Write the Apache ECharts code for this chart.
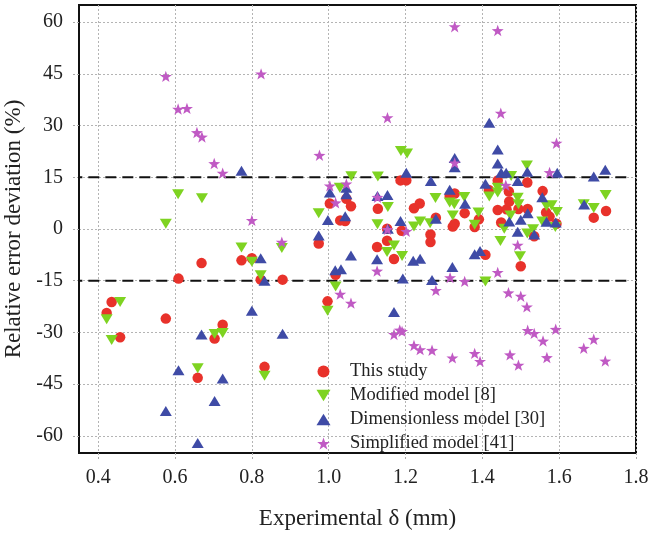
<!DOCTYPE html>
<html>
<head>
<meta charset="utf-8">
<script src="https://cdn.jsdelivr.net/npm/echarts@6/dist/echarts.min.js"></script>
<style>
  html, body { margin: 0; padding: 0; background: #fff; }
  #chart { width: 651px; height: 534px; }
</style>
</head>
<body>
<div id="chart"></div>
<script>
// Experimental δ (mm) vs relative error deviation (%)
const thisStudy = [
  [0.422,-24.4],[0.435,-21.2],[0.457,-31.4],[0.576,-26],[0.609,-14.4],[0.659,-43.2],[0.669,-9.9],
  [0.703,-31.8],[0.724,-27.8],[0.773,-9.1],[0.8,-8.5],[0.823,-14.7],[0.833,-40],[0.88,-14.7],
  [0.974,-4.2],[0.997,-21],[1.003,7.4],[1.018,-13.3],[1.03,2.5],[1.043,2.3],[1.046,8.8],[1.058,6.6],
  [1.126,-5.2],[1.128,5.9],[1.152,0.1],[1.152,-3.4],[1.17,-8.7],[1.187,14.1],[1.202,14.1],[1.19,-0.5],
  [1.222,6],[1.237,7.4],[1.265,-1.6],[1.265,-3.8],[1.279,3.3],[1.315,9.6],[1.328,10.3],[1.323,0.7],
  [1.328,1.5],[1.354,4.6],[1.38,0.6],[1.391,2.8],[1.408,-7.5],[1.417,11.3],[1.44,14.1],[1.44,5.5],
  [1.449,1.9],[1.463,5.7],[1.469,10.9],[1.47,8.0],[1.494,5.8],[1.5,-10.8],[1.517,13.5],[1.518,5.8],
  [1.535,-2.1],[1.557,11],[1.566,4.8],[1.575,3.6],[1.593,1.5],[1.69,3.3],[1.722,5.2]
];
const modifiedModel = [
  [0.422,-26.2],[0.435,-32.2],[0.457,-21.2],[0.576,1.5],[0.608,10.1],[0.659,-40.4],[0.67,8.9],
  [0.703,-30.5],[0.724,-30.2],[0.773,-5.4],[0.8,-9.5],[0.823,-13.4],[0.833,-42.6],[0.878,-5.5],
  [0.974,4.6],[0.997,-23.7],[1.018,-16.7],[1.029,12],[1.059,15.3],[1.128,15.2],[1.127,1.4],
  [1.154,6.4],[1.152,-6.7],[1.17,-4.8],[1.191,-7.8],[1.188,22.6],[1.204,21.9],[1.222,0.7],
  [1.238,2.2],[1.264,1.7],[1.278,9],[1.315,7.7],[1.327,7.2],[1.323,3.9],[1.353,9.3],[1.38,1.2],
  [1.39,4.8],[1.408,-15.2],[1.418,9.4],[1.44,12],[1.44,10.6],[1.447,-3.5],[1.457,0.1],[1.473,3.9],
  [1.475,15.4],[1.492,9.1],[1.494,7.2],[1.498,-7.9],[1.516,18.4],[1.517,-1.3],[1.532,-0.1],
  [1.556,2.2],[1.567,6.7],[1.58,6.9],[1.594,4.9],[1.59,0.6],[1.664,7.2],[1.69,6.1],[1.721,9.9]
];
const dimensionlessModel = [
  [0.576,-52.8],[0.609,-41],[0.659,-62.1],[0.669,-30.6],[0.703,-49.9],[0.724,-43.4],[0.773,16.9],
  [0.8,-23.7],[0.823,-8.5],[0.833,-15],[0.88,-30.4],[0.974,-1.9],[0.998,2.6],[1.003,10.6],
  [1.017,-12],[1.032,-11.7],[1.043,3.7],[1.046,12],[1.046,10.1],[1.058,-7.7],[1.126,-8.8],
  [1.127,9.6],[1.153,9.9],[1.154,0.1],[1.17,-24.1],[1.187,2.3],[1.193,-14.4],[1.202,16.3],
  [1.22,-9.2],[1.238,-8.6],[1.266,13.9],[1.269,-14.8],[1.279,3],[1.315,11.4],[1.322,-11],
  [1.328,20.6],[1.328,17.9],[1.355,7.3],[1.38,-7.3],[1.394,-6.4],[1.408,13.1],[1.418,30.8],
  [1.44,23.1],[1.44,19],[1.449,16.3],[1.462,16.3],[1.47,2.2],[1.492,13.9],[1.492,-0.8],[1.5,2.7],
  [1.517,16.6],[1.518,4.6],[1.535,-1.6],[1.556,9.2],[1.567,2.1],[1.591,1.9],[1.595,16.3],
  [1.665,7.1],[1.69,15.2],[1.72,17.2]
];
const simplifiedModel = [
  [0.576,44.3],[0.608,34.8],[0.631,35],[0.657,28],[0.67,26.7],[0.702,19],[0.724,16.2],[0.8,2.5],
  [0.824,45],[0.878,-3.8],[0.976,21.4],[1.003,12.5],[1.018,7.6],[1.03,-18.9],[1.046,13.1],
  [1.058,-21.5],[1.126,-12.2],[1.127,9.2],[1.153,32.3],[1.153,-0.1],[1.17,-30.6],[1.185,-29.3],
  [1.191,-29.7],[1.202,-0.7],[1.222,-33.8],[1.238,-35],[1.269,-35.2],[1.279,-17.8],[1.316,-14.1],
  [1.322,-37.4],[1.328,58.7],[1.328,19.2],[1.354,-15.2],[1.38,-36.1],[1.394,-38.4],[1.44,57.6],
  [1.448,33.6],[1.44,-12.6],[1.461,12.7],[1.468,-18.5],[1.472,-36.5],[1.492,-4.7],[1.494,-39.5],
  [1.5,-19.5],[1.516,-22.6],[1.518,-29.4],[1.535,-30.3],[1.558,-32.5],[1.568,-37.3],[1.575,16.4],
  [1.591,-29.1],[1.593,24.9],[1.664,-34.6],[1.69,-32],[1.72,-38.3]
];

const xTicks = [0.4, 0.6, 0.8, 1.0, 1.2, 1.4, 1.6, 1.8];
const yTicks = [-60, -45, -30, -15, 0, 15, 30, 45, 60];
const limitValues = [15, -15];
const limitSpan = [0.33, 1.78];

const seriesNames = ['This study', 'Modified model [8]', 'Dimensionless model [30]', 'Simplified model [41]'];

const serif = 'Liberation Serif, Times New Roman, serif';
const starPath = 'path://M50 0 L61.76 33.82 L97.55 34.55 L69.02 56.18 L79.39 90.45 L50 70 L20.61 90.45 L30.98 56.18 L2.45 34.55 L38.24 33.82 Z';
const downTriangle = 'path://M0 0 L120 0 L60 100 Z';
const upTriangle = 'path://M60 0 L120 100 L0 100 Z';

const gridLine = { show: true, lineStyle: { color: '#b4b4b4', width: 1, type: [2, 2] } };
const tickStyle = { show: true, inside: false, length: 8, lineStyle: { color: '#aaaaaa', width: 1, type: [2, 2] } };

const limitSeries = limitValues.map(v => ({
  type: 'line',
  data: limitSpan.map(x => [x, v]),
  symbol: 'none',
  clip: false,
  silent: true,
  z: 3,
  lineStyle: { color: '#111', width: 2, type: [11, 6] }
}));

const chart = echarts.init(document.getElementById('chart'), null, { renderer: 'canvas' });
chart.setOption({
  animation: false,
  backgroundColor: '#fff',
  grid: {
    left: 79, right: 15, top: 5, bottom: 81,
    containLabel: false, outerBoundsMode: 'none',
    show: true, borderColor: '#111', borderWidth: 2, backgroundColor: 'transparent'
  },
  legend: {
    orient: 'vertical',
    left: 311.5, top: 357,
    itemWidth: 14, itemHeight: 12, itemGap: 5,
    data: seriesNames,
    textStyle: { fontFamily: serif, fontSize: 18.5, color: '#222', padding: [0, 0, 0, 14.5] }
  },
  xAxis: {
    type: 'value', min: 0.35, max: 1.8,
    name: 'Experimental δ (mm)', nameLocation: 'middle', nameGap: 54,
    nameTextStyle: { fontFamily: serif, fontSize: 23, color: '#222' },
    axisLine: { show: true, onZero: false, lineStyle: { color: '#111', width: 2 } },
    axisTick: Object.assign({ customValues: xTicks }, tickStyle),
    axisLabel: { customValues: xTicks, margin: 15, fontFamily: serif, fontSize: 20, color: '#222',
                 formatter: v => v.toFixed(1) },
    splitLine: gridLine
  },
  yAxis: {
    type: 'value', min: -65, max: 65,
    name: 'Relative error deviation (%)', nameLocation: 'middle', nameGap: 44,
    nameTextStyle: { fontFamily: serif, fontSize: 23, color: '#222' },
    axisLine: { show: true, onZero: false, lineStyle: { color: '#111', width: 2 } },
    axisTick: Object.assign({ customValues: yTicks }, tickStyle),
    axisLabel: { customValues: yTicks, margin: 16, fontFamily: serif, fontSize: 20, color: '#222' },
    splitLine: gridLine
  },
  series: limitSeries.concat([
    {
      name: seriesNames[0], type: 'scatter', data: thisStudy, z: 4,
      symbol: 'circle', symbolSize: 10.5,
      itemStyle: { color: '#e8322b', opacity: 1 }
    },
    {
      name: seriesNames[1], type: 'scatter', data: modifiedModel, z: 5,
      symbol: downTriangle, symbolSize: [12, 10],
      itemStyle: { color: '#7ed321', opacity: 1 }
    },
    {
      name: seriesNames[2], type: 'scatter', data: dimensionlessModel, z: 6,
      symbol: upTriangle, symbolSize: [12, 10],
      itemStyle: { color: '#3f4ba6', opacity: 1 }
    },
    {
      name: seriesNames[3], type: 'scatter', data: simplifiedModel, z: 7,
      symbol: starPath, symbolSize: [12, 11.4],
      itemStyle: { color: '#c05ac4', opacity: 1 }
    }
  ])
});
</script>
</body>
</html>
